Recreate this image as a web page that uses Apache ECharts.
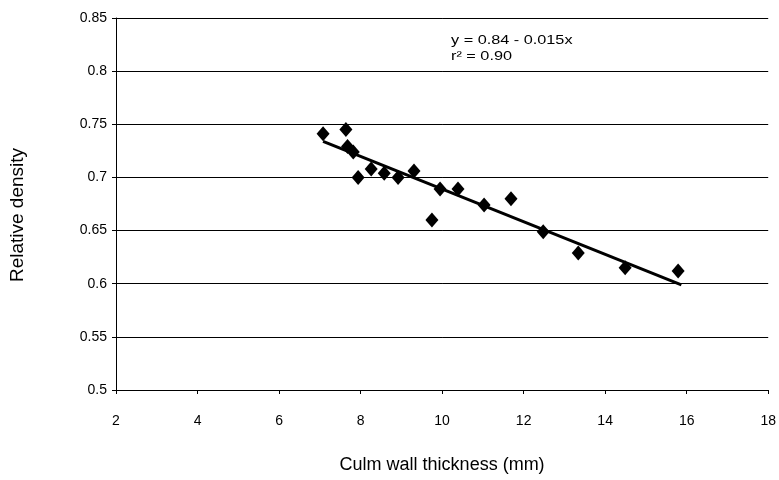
<!DOCTYPE html>
<html>
<head>
<meta charset="utf-8">
<script src="https://cdn.jsdelivr.net/npm/echarts@6/dist/echarts.min.js"></script>
<style>
  html, body { margin: 0; padding: 0; background: #fff; }
  #main { width: 779px; height: 480px; }
</style>
</head>
<body>
<div id="main"></div>
<script>
// culm wall thickness (mm)
var thickness = [7.08, 7.64, 7.68, 7.82, 7.94, 8.26, 8.58, 8.92, 9.31, 9.75, 9.95, 10.39, 11.03, 11.69, 12.48, 13.34, 14.49, 15.79]
// relative density
var density = [0.741, 0.745, 0.729, 0.724, 0.700, 0.708, 0.704, 0.700, 0.706, 0.660, 0.689, 0.689, 0.674, 0.680, 0.649, 0.629, 0.615, 0.612]
// fitted line y = 0.84 - 0.015x, end points as drawn
var fitX = [7.08, 15.87]
var fitY = [0.734, 0.599]

var points = thickness.map(function (x, i) { return [x, density[i]] })
var fit = fitX.map(function (x, i) { return [x, fitY[i]] })

var myChart = echarts.init(document.getElementById('main'))
var font = 'Liberation Sans, Arial, sans-serif'

myChart.setOption({
  animation: false,
  grid: { left: 116, right: 10, top: 18, bottom: 90 },
  xAxis: {
    type: 'value',
    min: 2,
    max: 18,
    interval: 2,
    name: 'Culm wall thickness (mm)',
    nameLocation: 'middle',
    nameGap: 66,
    nameTextStyle: { fontFamily: font, fontSize: 18, color: '#000' },
    axisLine: { show: true, lineStyle: { color: '#000', width: 1 } },
    axisTick: { show: true, length: 4, lineStyle: { color: '#000' } },
    axisLabel: { margin: 24, fontFamily: font, fontSize: 14, color: '#000' },
    splitLine: { show: false }
  },
  yAxis: {
    type: 'value',
    min: 0.5,
    max: 0.85,
    interval: 0.05,
    axisLine: { show: true, lineStyle: { color: '#000', width: 1 } },
    axisTick: { show: true, length: 4, lineStyle: { color: '#000' } },
    axisLabel: { margin: 9, fontFamily: font, fontSize: 14, color: '#000' },
    splitLine: { show: true, lineStyle: { color: '#000', width: 1 } }
  },
  graphic: [
    {
      // y axis title
      type: 'text',
      x: 18,
      y: 215,
      rotation: Math.PI / 2,
      style: {
        text: 'Relative density',
        font: '19px ' + font,
        fill: '#000',
        align: 'center',
        verticalAlign: 'middle'
      }
    },
    {
      // regression equation
      type: 'text',
      x: 451,
      y: 32,
      scaleX: 1.25,
      style: {
        text: 'y = 0.84 - 0.015x\nr² = 0.90',
        font: '13px ' + font,
        fill: '#000',
        lineHeight: 16
      }
    }
  ],
  series: [
    {
      type: 'line',
      data: fit,
      symbol: 'none',
      lineStyle: { color: '#000', width: 3 },
      z: 2
    },
    {
      type: 'scatter',
      data: points,
      symbol: 'diamond',
      symbolSize: [13, 15],
      itemStyle: { color: '#000', opacity: 1 },
      z: 3
    }
  ]
})
</script>
</body>
</html>
